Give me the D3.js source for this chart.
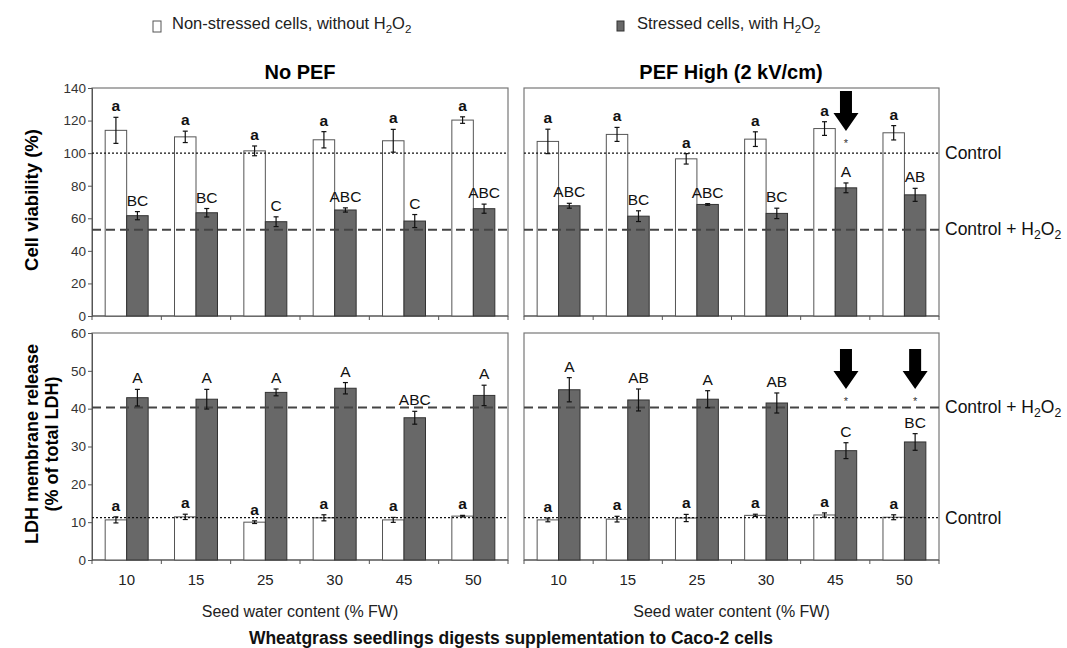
<!DOCTYPE html>
<html>
<head>
<meta charset="utf-8">
<script src="https://cdn.jsdelivr.net/npm/d3@7"></script>
<style>
  body { margin: 0; background: #fff; }
  svg { font-family: "Liberation Sans", Arial, sans-serif; }
</style>
</head>
<body>
<svg id="chart" width="1067" height="648"></svg>
<script>
// seed water content (% FW)
const categories = ["10", "15", "25", "30", "45", "50"];

// cell viability (%) - No PEF
const viabNoPefCtrl    = [114, 110, 101.4, 108.2, 107.6, 120.3];
const viabNoPefCtrlErr = [8, 3.5, 3, 5, 7, 2];
const viabNoPefH2o2    = [61.6, 63.4, 57.9, 65.1, 58.3, 65.9];
const viabNoPefH2o2Err = [2.5, 2.6, 3, 1.3, 4, 2.8];
const viabNoPefLetters = ["BC", "BC", "C", "ABC", "C", "ABC"];

// cell viability (%) - PEF High
const viabPefCtrl    = [107.2, 111.5, 96.5, 108.6, 115.1, 112.5];
const viabPefCtrlErr = [7.5, 4.3, 3.2, 4.5, 4.2, 4.4];
const viabPefH2o2    = [67.7, 61.3, 68.5, 63, 78.7, 74.4];
const viabPefH2o2Err = [1.5, 3.3, 0.5, 3.2, 3, 4];
const viabPefLetters = ["ABC", "BC", "ABC", "BC", "A", "AB"];

// LDH release (% of total LDH) - No PEF
const ldhNoPefCtrl    = [10.6, 11.4, 10.0, 11.15, 10.6, 11.6];
const ldhNoPefCtrlErr = [0.8, 0.7, 0.35, 0.8, 0.65, 0.2];
const ldhNoPefH2o2    = [42.9, 42.5, 44.3, 45.4, 37.6, 43.5];
const ldhNoPefH2o2Err = [2.2, 2.6, 0.9, 1.5, 1.7, 2.7];
const ldhNoPefLetters = ["A", "A", "A", "A", "ABC", "A"];

// LDH release (% of total LDH) - PEF High
const ldhPefCtrl    = [10.6, 10.8, 11.1, 11.8, 11.9, 11.3];
const ldhPefCtrlErr = [0.5, 0.75, 0.95, 0.3, 0.55, 0.65];
const ldhPefH2o2    = [45, 42.3, 42.5, 41.5, 28.9, 31.2];
const ldhPefH2o2Err = [3.2, 2.9, 2.25, 2.65, 2.1, 2.2];
const ldhPefLetters = ["A", "AB", "A", "AB", "C", "BC"];

// reference lines
const viabControl = 100, viabControlH2o2 = 53;
const ldhControl = 11.2, ldhControlH2o2 = 40.3;

// arrows with * (category index, value of the star)
const viabPefMarks = [{ i: 4, v: 106.8 }];
const ldhPefMarks  = [{ i: 4, v: 42.3 }, { i: 5, v: 42.3 }];

const svg = d3.select("#chart");

const GRAY = "#686868";

function h2o2(sel, prefix, size) {
    sel.append("tspan").text(prefix + "H");
    sel.append("tspan").text("2").attr("font-size", size * 0.7).attr("dy", 4);
    sel.append("tspan").text("O").attr("dy", -4);
    sel.append("tspan").text("2").attr("font-size", size * 0.7).attr("dy", 4);
}

function drawPanel(opt) {
    const x = d3.scaleBand().domain(categories).range([opt.x0, opt.x1]);
    const y = d3.scaleLinear().domain([0, opt.max]).range([opt.y1, opt.y0]);
    const g = svg.append("g");
    const bw = x.bandwidth() * 0.31;
    const cx = d => x(d) + x.bandwidth() / 2;

    // frame
    g.append("rect")
        .attr("x", opt.x0).attr("y", opt.y0)
        .attr("width", opt.x1 - opt.x0).attr("height", opt.y1 - opt.y0)
        .attr("fill", "none").attr("stroke", "#777").attr("stroke-width", 1.2);

    // y axis (only left panels)
    if (opt.yAxis) {
        const ax = g.append("g")
            .attr("transform", `translate(${opt.x0},0)`)
            .call(d3.axisLeft(y).tickValues(d3.range(0, opt.max + 1, opt.step)).tickSize(4).tickPadding(2));
        ax.select(".domain").attr("stroke", "#555");
        ax.selectAll(".tick line").attr("stroke", "#555");
        ax.selectAll("text").attr("font-size", 13.5).attr("fill", "#333")
            .attr("font-family", "Liberation Sans, Arial, sans-serif");
    }

    // x tick marks at category boundaries
    const bounds = categories.map(c => x(c)).concat([opt.x1]);
    g.selectAll(".xt").data(bounds).enter().append("line")
        .attr("x1", d => d).attr("x2", d => d)
        .attr("y1", opt.y1).attr("y2", opt.y1 + 4)
        .attr("stroke", "#555");
    g.append("line").attr("x1", opt.x0).attr("x2", opt.x1)
        .attr("y1", opt.y1).attr("y2", opt.y1).attr("stroke", "#555").attr("stroke-width", 1.2);

    if (opt.xLabels) {
        g.selectAll(".xl").data(categories).enter().append("text")
            .attr("x", d => cx(d)).attr("y", opt.y1 + 25)
            .attr("text-anchor", "middle").attr("font-size", 15).attr("fill", "#222")
            .text(d => d);
        g.append("text")
            .attr("x", (opt.x0 + opt.x1) / 2).attr("y", opt.y1 + 57)
            .attr("text-anchor", "middle").attr("font-size", 16).attr("fill", "#222")
            .text("Seed water content (% FW)");
    }

    // bars
    g.selectAll(".bw").data(categories).enter().append("rect")
        .attr("x", d => cx(d) - bw).attr("width", bw)
        .attr("y", (d, i) => y(opt.ctrl[i]))
        .attr("height", (d, i) => y(0) - y(opt.ctrl[i]))
        .attr("fill", "#fff").attr("stroke", "#555").attr("stroke-width", 1);
    g.selectAll(".bg").data(categories).enter().append("rect")
        .attr("x", d => cx(d)).attr("width", bw)
        .attr("y", (d, i) => y(opt.h2o2[i]))
        .attr("height", (d, i) => y(0) - y(opt.h2o2[i]))
        .attr("fill", GRAY).attr("stroke", "#333").attr("stroke-width", 1);

    // reference lines
    g.append("line").attr("x1", opt.x0).attr("x2", opt.x1)
        .attr("y1", y(opt.refCtrl)).attr("y2", y(opt.refCtrl))
        .attr("stroke", "#111").attr("stroke-width", 1.3).attr("stroke-dasharray", "2,2");
    g.append("line").attr("x1", opt.x0).attr("x2", opt.x1)
        .attr("y1", y(opt.refH2o2)).attr("y2", y(opt.refH2o2))
        .attr("stroke", "#444").attr("stroke-width", 2).attr("stroke-dasharray", "9,5");

    // error bars
    function errBars(vals, errs, off) {
        categories.forEach((c, i) => {
            const px = cx(c) + off;
            const t = y(vals[i] + errs[i]), b = y(vals[i] - errs[i]);
            g.append("line").attr("x1", px).attr("x2", px).attr("y1", t).attr("y2", b)
                .attr("stroke", "#111").attr("stroke-width", 1.2);
            [t, b].forEach(v => g.append("line")
                .attr("x1", px - 2.5).attr("x2", px + 2.5).attr("y1", v).attr("y2", v)
                .attr("stroke", "#111").attr("stroke-width", 1.2));
        });
    }
    errBars(opt.ctrl, opt.ctrlErr, -bw / 2);
    errBars(opt.h2o2, opt.h2o2Err, bw / 2);

    // significance letters
    g.selectAll(".la").data(categories).enter().append("text")
        .attr("x", d => cx(d) - bw / 2)
        .attr("y", (d, i) => y(opt.ctrl[i] + opt.ctrlErr[i]) - 6)
        .attr("text-anchor", "middle").attr("font-size", 15.5).attr("font-weight", "bold")
        .attr("fill", "#111").text("a");
    g.selectAll(".lA").data(categories).enter().append("text")
        .attr("x", d => cx(d) + bw / 2)
        .attr("y", (d, i) => y(opt.h2o2[i] + opt.h2o2Err[i]) - 6)
        .attr("text-anchor", "middle").attr("font-size", 15.5)
        .attr("fill", "#111").text((d, i) => opt.letters[i]);

    // arrows + stars
    (opt.marks || []).forEach(m => {
        const px = cx(categories[m.i]) + bw / 2;
        const sy = y(m.v);
        const tip = sy - 11, top = tip - 40;
        const path = d3.path();
        path.moveTo(px - 6, top);
        path.lineTo(px + 6, top);
        path.lineTo(px + 6, top + 22);
        path.lineTo(px + 12.5, top + 22);
        path.lineTo(px, tip);
        path.lineTo(px - 12.5, top + 22);
        path.lineTo(px - 6, top + 22);
        path.closePath();
        g.append("path").attr("d", path.toString()).attr("fill", "#000");
        g.append("text").attr("x", px).attr("y", sy + 5)
            .attr("text-anchor", "middle").attr("font-size", 11).attr("fill", "#333").text("*");
    });

    // right side labels
    if (opt.rightLabels) {
        g.append("text").attr("x", opt.x1 + 6).attr("y", y(opt.refCtrl) + 6)
            .attr("font-size", 17.5).attr("fill", "#111").text("Control");
        const t = g.append("text").attr("x", opt.x1 + 6).attr("y", y(opt.refH2o2) + 5)
            .attr("font-size", 17.5).attr("fill", "#111");
        h2o2(t, "Control + ", 17.5);
    }
    return { x, y };
}

drawPanel({ x0: 92, x1: 508, y0: 88, y1: 316, max: 140, step: 20, yAxis: true,
    ctrl: viabNoPefCtrl, ctrlErr: viabNoPefCtrlErr, h2o2: viabNoPefH2o2, h2o2Err: viabNoPefH2o2Err,
    letters: viabNoPefLetters, refCtrl: viabControl, refH2o2: viabControlH2o2 });
drawPanel({ x0: 524, x1: 939, y0: 88, y1: 316, max: 140, step: 20,
    ctrl: viabPefCtrl, ctrlErr: viabPefCtrlErr, h2o2: viabPefH2o2, h2o2Err: viabPefH2o2Err,
    letters: viabPefLetters, refCtrl: viabControl, refH2o2: viabControlH2o2,
    marks: viabPefMarks, rightLabels: true });
drawPanel({ x0: 92, x1: 508, y0: 333, y1: 560, max: 60, step: 10, yAxis: true, xLabels: true,
    ctrl: ldhNoPefCtrl, ctrlErr: ldhNoPefCtrlErr, h2o2: ldhNoPefH2o2, h2o2Err: ldhNoPefH2o2Err,
    letters: ldhNoPefLetters, refCtrl: ldhControl, refH2o2: ldhControlH2o2 });
drawPanel({ x0: 524, x1: 939, y0: 333, y1: 560, max: 60, step: 10, xLabels: true,
    ctrl: ldhPefCtrl, ctrlErr: ldhPefCtrlErr, h2o2: ldhPefH2o2, h2o2Err: ldhPefH2o2Err,
    letters: ldhPefLetters, refCtrl: ldhControl, refH2o2: ldhControlH2o2,
    marks: ldhPefMarks, rightLabels: true });

// panel titles
svg.append("text").attr("x", 300).attr("y", 79).attr("text-anchor", "middle")
    .attr("font-size", 20).attr("font-weight", "bold").text("No PEF");
svg.append("text").attr("x", 731).attr("y", 79).attr("text-anchor", "middle")
    .attr("font-size", 20).attr("font-weight", "bold").text("PEF High (2 kV/cm)");

// y axis titles
svg.append("text").attr("transform", "translate(38,200) rotate(-90)")
    .attr("text-anchor", "middle").attr("font-size", 18.5).attr("font-weight", "bold")
    .text("Cell viability (%)");
svg.append("text").attr("transform", "translate(38,444) rotate(-90)")
    .attr("text-anchor", "middle").attr("font-size", 18).attr("font-weight", "bold")
    .text("LDH membrane release");
svg.append("text").attr("transform", "translate(58,444) rotate(-90)")
    .attr("text-anchor", "middle").attr("font-size", 18).attr("font-weight", "bold")
    .text("(% of total LDH)");

// bottom title
svg.append("text").attr("x", 511).attr("y", 644).attr("text-anchor", "middle")
    .attr("font-size", 17.5).attr("font-weight", "bold").attr("fill", "#111")
    .text("Wheatgrass seedlings digests supplementation to Caco-2 cells");

// legend
svg.append("rect").attr("x", 153).attr("y", 21).attr("width", 8).attr("height", 11)
    .attr("fill", "#fff").attr("stroke", "#555");
const l1 = svg.append("text").attr("x", 172).attr("y", 29).attr("font-size", 16.5).attr("fill", "#222");
h2o2(l1, "Non-stressed cells, without ", 16.5);
svg.append("rect").attr("x", 617).attr("y", 21).attr("width", 7).attr("height", 10)
    .attr("fill", GRAY).attr("stroke", "#333");
const l2 = svg.append("text").attr("x", 637).attr("y", 29).attr("font-size", 16.5).attr("fill", "#222");
h2o2(l2, "Stressed cells, with ", 16.5);
</script>
</body>
</html>
